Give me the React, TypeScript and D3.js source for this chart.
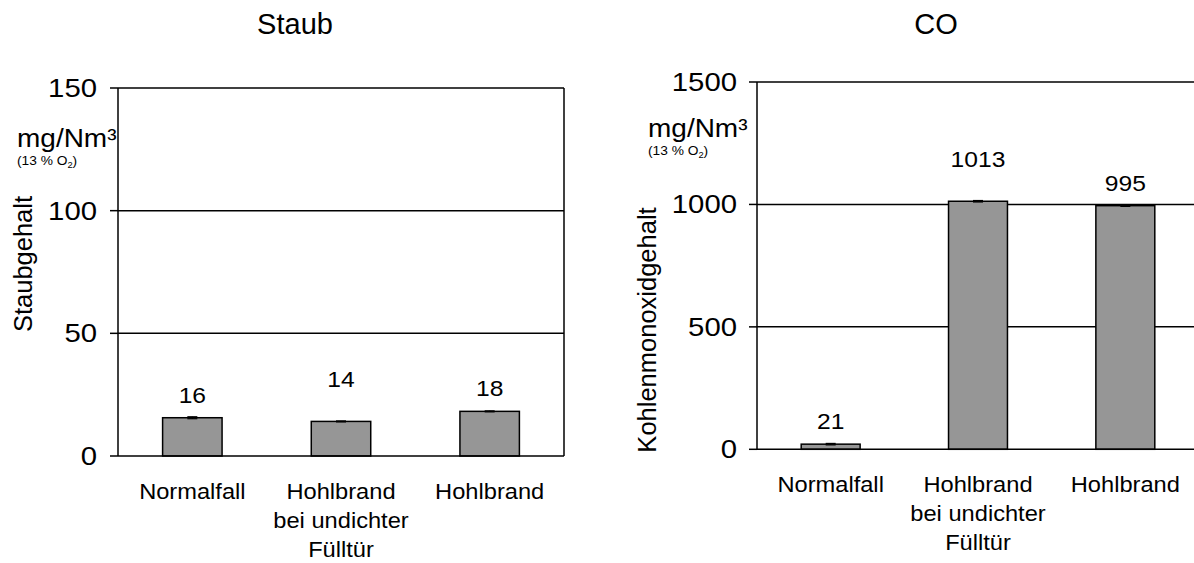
import React from "react";
import * as d3 from "d3";

const categoryLines: string[][] = [["Normalfall"], ["Hohlbrand", "bei undichter", "Fülltür"], ["Hohlbrand"]];
const categoryKeys = ["Normalfall", "Hohlbrand undicht", "Hohlbrand"];

const staubValues = [15.6, 14.1, 18.2];
const staubErrors = [0.4, 0.2, 0.2];
const staubLabels = ["16", "14", "18"];
const staubTicks = [0, 50, 100, 150];

const coValues = [21, 1013, 995];
const coErrors = [3, 3, 3];
const coLabels = ["21", "1013", "995"];
const coTicks = [0, 500, 1000, 1500];

const FONT = "'Liberation Sans', Arial, Helvetica, sans-serif";
const labelRaise = [0, 19, 0];

type TxtProps = {
  x: number; y: number; size: number; sx?: number; anchor?: string; children: React.ReactNode;
};
function Txt({ x, y, size, sx = 1, anchor = "middle", children }: TxtProps) {
  return (
    <g transform={`translate(${x},${y}) scale(${sx},1)`}>
      <text x={0} y={0} fontSize={size} textAnchor={anchor} fontFamily={FONT} fill="#000">
        {children}
      </text>
    </g>
  );
}

type PanelProps = {
  title: string; titleX: number;
  x0: number; x1: number; yTop: number; yBottom: number;
  values: number[]; errors: number[]; labels: string[]; ticks: number[];
  unitX: number; unitY: number;
  axisTitle: string; axisTitleX: number; axisTitleY: number;
  tickLabelGap: number;
};

function Panel(p: PanelProps) {
  const max = p.ticks[p.ticks.length - 1];
  const y = d3.scaleLinear().domain([0, max]).range([p.yBottom, p.yTop]);
  const x = d3.scaleBand<string>().domain(categoryKeys).range([p.x0, p.x1]).paddingInner(0.6).paddingOuter(0.3);
  const bw = x.bandwidth();
  const sw = 1.5;
  return (
    <g>
      <Txt x={p.titleX} y={34} size={29}>{p.title}</Txt>
      {p.ticks.filter((t) => t > 0).map((t) => (
        <line key={"g" + t} x1={p.x0} x2={p.x1} y1={y(t)} y2={y(t)} stroke="#000" strokeWidth={sw} />
      ))}
      <line x1={p.x1} x2={p.x1} y1={p.yTop} y2={p.yBottom} stroke="#000" strokeWidth={sw} />
      {p.values.map((v, i) => {
        const bx = x(categoryKeys[i])!;
        return (
          <rect key={"b" + i} x={bx} y={y(v)} width={bw} height={p.yBottom - y(v)} fill="#969696" stroke="#000" strokeWidth={1.5} />
        );
      })}
      {p.values.map((v, i) => {
        const cx = x(categoryKeys[i])! + bw / 2;
        const lo = y(v - p.errors[i]);
        const hi = y(v + p.errors[i]);
        return (
          <g key={"e" + i} stroke="#000" strokeWidth={1.2}>
            <line x1={cx} x2={cx} y1={lo} y2={hi} />
            <line x1={cx - 5} x2={cx + 5} y1={lo} y2={lo} />
            <line x1={cx - 5} x2={cx + 5} y1={hi} y2={hi} />
          </g>
        );
      })}
      {p.values.map((v, i) => (
        <Txt key={"v" + i} x={x(categoryKeys[i])! + bw / 2} y={y(v) - 15 - labelRaise[i]} size={22} sx={1.12}>
          {p.labels[i]}
        </Txt>
      ))}
      <line x1={p.x0} x2={p.x0} y1={p.yTop} y2={p.yBottom} stroke="#000" strokeWidth={sw} />
      <line x1={p.x0} x2={p.x1} y1={p.yBottom} y2={p.yBottom} stroke="#000" strokeWidth={sw} />
      {p.ticks.map((t) => (
        <g key={"t" + t}>
          <line x1={p.x0 - 8} x2={p.x0} y1={y(t)} y2={y(t)} stroke="#000" strokeWidth={sw} />
          <Txt x={p.x0 - p.tickLabelGap} y={y(t) + 9} size={25.5} sx={1.15} anchor="end">{t}</Txt>
        </g>
      ))}
      {categoryLines.map((lines, i) => (
        <g key={"c" + i}>
          {lines.map((ln, j) => (
            <Txt key={j} x={x(categoryKeys[i])! + bw / 2} y={p.yBottom + 43 + j * 29} size={21.5} sx={1.1}>
              {ln}
            </Txt>
          ))}
        </g>
      ))}
      <Txt x={p.unitX} y={p.unitY} size={25} sx={1.12} anchor="start">mg/Nm³</Txt>
      <Txt x={p.unitX} y={p.unitY + 18} size={12.5} sx={1.1} anchor="start">
        <tspan>(13 % O</tspan>
        <tspan fontSize={8.5} dy={3}>2</tspan>
        <tspan dy={-3}>)</tspan>
      </Txt>
      <text
        transform={`translate(${p.axisTitleX},${p.axisTitleY}) rotate(-90)`}
        fontSize={25.5}
        textAnchor="middle"
        fontFamily={FONT}
        fill="#000"
      >
        {p.axisTitle}
      </text>
    </g>
  );
}

export default function App() {
  return (
    <svg
      width={1194}
      height={563}
      viewBox="0 0 1194 563"
      style={{ position: "absolute", left: 0, top: 0, background: "#fff" }}
    >
      <rect x={0} y={0} width={1194} height={563} fill="#fff" />
      <Panel
        title="Staub" titleX={295}
        x0={118} x1={564} yTop={88} yBottom={456}
        values={staubValues} errors={staubErrors} labels={staubLabels} ticks={staubTicks}
        unitX={17} unitY={147}
        axisTitle="Staubgehalt" axisTitleX={32} axisTitleY={264}
        tickLabelGap={21}
      />
      <Panel
        title="CO" titleX={936}
        x0={757} x1={1199} yTop={82} yBottom={449.3}
        values={coValues} errors={coErrors} labels={coLabels} ticks={coTicks}
        unitX={648} unitY={137}
        axisTitle="Kohlenmonoxidgehalt" axisTitleX={656} axisTitleY={330}
        tickLabelGap={20}
      />
    </svg>
  );
}
